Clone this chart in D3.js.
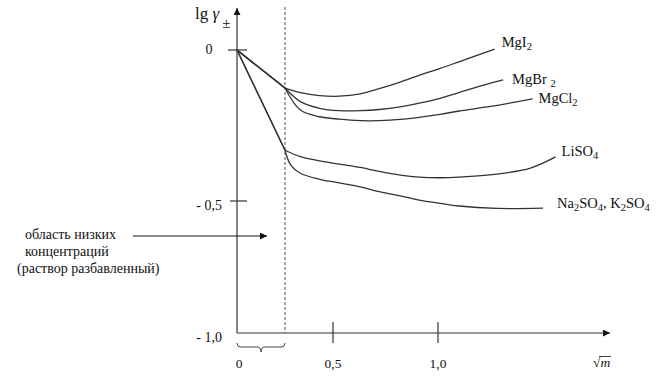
<!DOCTYPE html>
<html><head><meta charset="utf-8">
<script src="https://cdn.jsdelivr.net/npm/d3@7/dist/d3.min.js"></script>
<style>
body{margin:0;background:#fff;}
</style>
</head><body>
<svg id="chart" width="660" height="383" font-family="'Liberation Serif', 'DejaVu Serif', 'Times New Roman', serif"></svg>
<script>
// ---- data ----
const xTickValues = [0, 0.5, 1.0];
const xTickLabels = ["0", "0,5", "1,0"];
const yTickValues = [0, -0.5, -1.0];
const yTickLabels = ["0", "- 0,5", "- 1,0"];
const lowConcLimit = 0.25;   // sqrt(m) boundary of dilute region
const seriesNames = ["MgI2", "MgBr 2", "MgCl2", "LiSO4", "Na2SO4, K2SO4"];
const mgI2  = [[0,0],[0.25,-0.126],[0.33,-0.141],[0.43,-0.151],[0.53,-0.153],[0.63,-0.145],[0.72,-0.128],[0.82,-0.106],[0.91,-0.084],[1.01,-0.061],[1.10,-0.039],[1.27,0.003]];
const mgBr2 = [[0,0],[0.25,-0.126],[0.33,-0.171],[0.43,-0.193],[0.53,-0.201],[0.63,-0.201],[0.72,-0.197],[0.82,-0.188],[0.91,-0.176],[1.01,-0.160],[1.10,-0.141],[1.25,-0.110],[1.31,-0.099]];
const mgCl2 = [[0,0],[0.25,-0.126],[0.33,-0.199],[0.43,-0.221],[0.53,-0.229],[0.63,-0.234],[0.72,-0.234],[0.82,-0.230],[0.91,-0.223],[1.01,-0.213],[1.10,-0.202],[1.25,-0.187],[1.45,-0.162]];
const liSO4 = [[0,0],[0.25,-0.332],[0.33,-0.353],[0.43,-0.367],[0.53,-0.378],[0.63,-0.389],[0.72,-0.402],[0.82,-0.414],[0.91,-0.421],[1.01,-0.423],[1.10,-0.421],[1.28,-0.411],[1.44,-0.391],[1.56,-0.354]];
const na2SO4 = [[0,0],[0.25,-0.332],[0.28,-0.381],[0.33,-0.408],[0.43,-0.428],[0.53,-0.440],[0.63,-0.453],[0.72,-0.469],[0.82,-0.483],[0.91,-0.497],[1.01,-0.509],[1.10,-0.519],[1.28,-0.528],[1.50,-0.527]];
const seriesValues = [mgI2, mgBr2, mgCl2, liSO4, na2SO4];
const noteLines = ["область низких", "концентраций", "(раствор разбавленный)"];

// ---- layout / style ----
const labelOffsets = [[7,-2],[9,4],[6,4],[6,-1],[14,0]];
const ink = "#333";

const svg = d3.select("#chart");
const x = d3.scaleLinear().domain([0, 0.5, 1.0]).range([237, 333, 438]);
const y = d3.scaleLinear().domain([0, -0.5, -1.0]).range([50, 201, 333]);
const x0 = x(0), yBase = y(-1.0);

const defs = svg.append("defs");
defs.append("marker").attr("id","arr").attr("viewBox","0 0 10 10").attr("refX",10).attr("refY",5)
  .attr("markerWidth",10).attr("markerHeight",7).attr("markerUnits","userSpaceOnUse").attr("orient","auto")
  .append("path").attr("d","M0,0L10,5L0,10Z").attr("fill","#111");

// dashed boundary
svg.append("line").attr("x1",x(lowConcLimit)).attr("x2",x(lowConcLimit)).attr("y1",7).attr("y2",yBase)
  .attr("stroke","#777").attr("stroke-width",1.3).attr("stroke-dasharray","3,2");

// axes
svg.append("line").attr("x1",x0).attr("x2",x0).attr("y1",yBase).attr("y2",8)
  .attr("stroke",ink).attr("stroke-width",1.2).attr("marker-end","url(#arr)");
svg.append("line").attr("x1",x0).attr("x2",610).attr("y1",yBase).attr("y2",yBase)
  .attr("stroke",ink).attr("stroke-width",1.2).attr("marker-end","url(#arr)");

// y ticks
yTickValues.forEach((v,i)=>{
  if (v > -1.0) {
    svg.append("line").attr("x1", i===0 ? x0-9 : x0-7).attr("x2",x0+10).attr("y1",y(v)).attr("y2",y(v))
      .attr("stroke",ink).attr("stroke-width",1.2);
  }
  svg.append("text").attr("x", i===0 ? 209 : 222).attr("y", y(v) + (i===0 ? 4 : 9))
    .attr("text-anchor", i===0 ? "middle" : "end").attr("font-size",14).attr("fill","#111").text(yTickLabels[i]);
});
// x ticks
xTickValues.forEach((v,i)=>{
  if (v > 0) {
    svg.append("line").attr("x1",x(v)).attr("x2",x(v)).attr("y1",yBase-11).attr("y2",yBase+10)
      .attr("stroke",ink).attr("stroke-width",1.2);
  }
  svg.append("text").attr("x", x(v) + (v===0?2:0)).attr("y",368).attr("text-anchor","middle")
    .attr("font-size",13.5).attr("fill","#111").text(xTickLabels[i]);
});
// sqrt(m) label
const sq = svg.append("text").attr("x",593).attr("y",367).attr("font-size",13.5).attr("fill","#111");
sq.append("tspan").text("√");
sq.append("tspan").attr("font-style","italic").text("m");
svg.append("line").attr("x1",599).attr("x2",611).attr("y1",356.5).attr("y2",356.5).attr("stroke","#111").attr("stroke-width",0.8);

// y axis title
const yt = svg.append("text").attr("x",195).attr("y",19).attr("font-size",17).attr("fill","#111");
yt.append("tspan").text("lg ");
yt.append("tspan").attr("font-style","italic").text("γ");
yt.append("tspan").attr("dx",3).attr("dy",9).attr("font-size",15).text("±");

// curves
const lineLin = d3.line().x(d=>x(d[0])).y(d=>y(d[1]));
const lineCurve = d3.line().x(d=>x(d[0])).y(d=>y(d[1])).curve(d3.curveCatmullRom.alpha(0.5));
seriesValues.forEach((s,i)=>{
  svg.append("path").attr("d", lineLin(s.slice(0,2))).attr("fill","none").attr("stroke",ink).attr("stroke-width",1.3);
  svg.append("path").attr("d", lineCurve(s.slice(1))).attr("fill","none").attr("stroke",ink).attr("stroke-width",1.3);
  const last = s[s.length-1];
  const t = svg.append("text").attr("x", x(last[0]) + labelOffsets[i][0]).attr("y", y(last[1]) + labelOffsets[i][1])
    .attr("font-size",14.5).attr("fill","#111");
  let lowered = false;
  seriesNames[i].split(/(\d)/).filter(p=>p!=="").forEach(p=>{
    if (/\d/.test(p)) {
      t.append("tspan").attr("dy",lowered?0:3).attr("font-size",10.5).text(p);
      lowered = true;
    } else {
      t.append("tspan").attr("dy",lowered?-3:0).text(p);
      lowered = false;
    }
  });
});

// brace under dilute region
const bx0 = x(0), bx1 = x(lowConcLimit), bm = (bx0+bx1)/2, by = yBase + 14;
svg.append("path").attr("d",
  `M${bx0},${by-4} Q${bx0},${by} ${bx0+4},${by} L${bm-4},${by} Q${bm},${by} ${bm},${by+5} Q${bm},${by} ${bm+4},${by} L${bx1-4},${by} Q${bx1},${by} ${bx1},${by-4}`)
  .attr("fill","none").attr("stroke","#444").attr("stroke-width",1);

// annotation
const noteX = [25, 25, 17], noteY = [239, 256, 273];
noteLines.forEach((l,i)=>svg.append("text").attr("x",noteX[i]).attr("y",noteY[i]).attr("font-size",14).attr("fill","#111").text(l));
svg.append("line").attr("x1",133).attr("x2",267).attr("y1",236).attr("y2",236)
  .attr("stroke","#111").attr("stroke-width",1.2).attr("marker-end","url(#arr)");
</script>
</body></html>
